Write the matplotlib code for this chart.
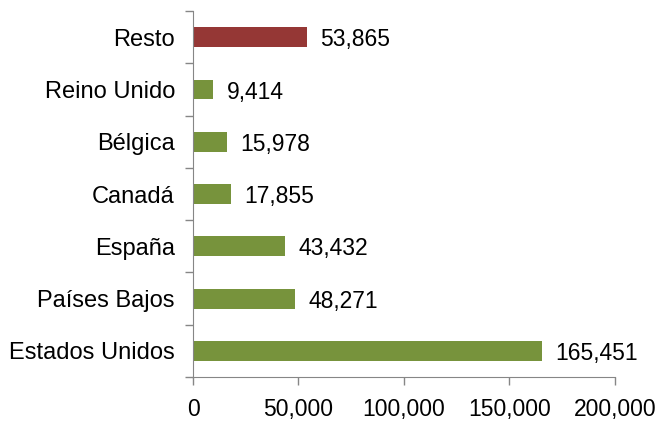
import numpy as np
import matplotlib.pyplot as plt
from matplotlib.ticker import FuncFormatter

plt.rcParams['font.family'] = ['Liberation Sans', 'DejaVu Sans']

# data, bottom to top
paises = ["Estados Unidos", "Países Bajos", "España", "Canadá", "Bélgica", "Reino Unido", "Resto"]
valores = [165451, 48271, 43432, 17855, 15978, 9414, 53865]
colores = ["#77933C"] * 6 + ["#953735"]

fig = plt.figure(figsize=(6.57, 4.22), dpi=100)
ax = fig.add_axes([0.2938, 0.1066, 0.642, 0.867])

y = np.arange(len(paises))
ax.barh(y, valores, height=0.38, color=colores)

for yi, v in zip(y, valores):
    ax.text(v + 6500, yi - 0.05, f"{v:,}", va='center', ha='left', fontsize=16.5, color='black')

ax.set_xlim(0, 200000)
ax.set_ylim(-0.5, len(paises) - 0.5)
ax.set_xticks([0, 50000, 100000, 150000, 200000])
ax.xaxis.set_major_formatter(FuncFormatter(lambda v, p: f"{int(v):,}"))

# category labels without ticks, ticks at boundaries
ax.set_yticks(y)
ax.set_yticklabels(paises)
ax.set_yticks(np.arange(-0.5, len(paises), 1.0), minor=True)
ax.tick_params(axis='y', which='major', length=0, pad=13, labelsize=17)
ax.tick_params(axis='y', which='minor', length=6, color='#868686', width=1)
ax.tick_params(axis='x', length=6, color='#868686', width=1, labelsize=16.5, pad=9)

for s in ['top', 'right']:
    ax.spines[s].set_visible(False)
for s in ['left', 'bottom']:
    ax.spines[s].set_color('#868686')

plt.savefig("out.png", dpi=100)
